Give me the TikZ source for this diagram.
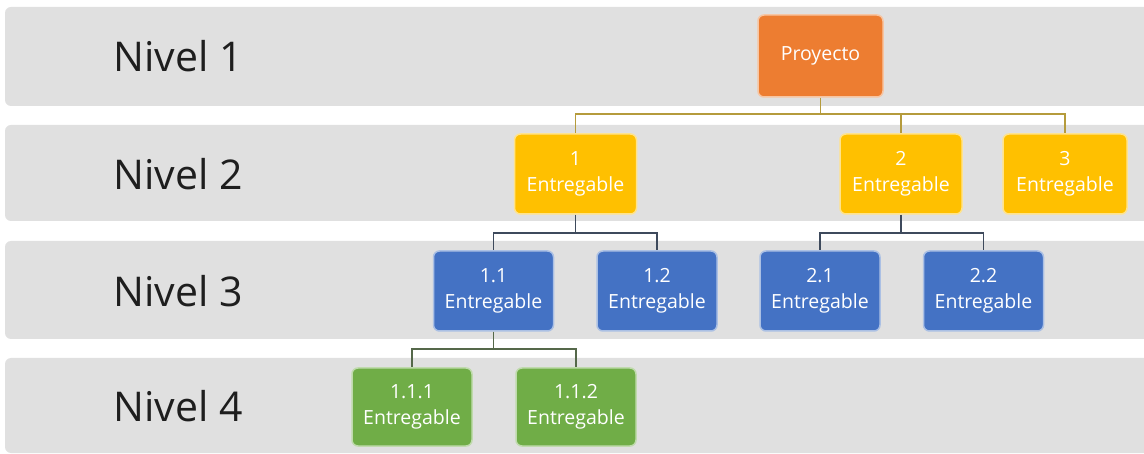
\documentclass[tikz,border=0pt]{standalone}
\usepackage{fontspec}
\setmainfont{Open Sans}
\definecolor{band}{HTML}{E0E0E0}
\definecolor{orng}{HTML}{ED7D31}
\definecolor{yell}{HTML}{FFC000}
\definecolor{blu}{HTML}{4472C4}
\definecolor{grn}{HTML}{70AD47}
\definecolor{cA}{HTML}{B59B3C}
\definecolor{cB}{HTML}{3E4A5C}
\definecolor{cC}{HTML}{55684A}
\definecolor{nivtxt}{HTML}{1E1E1E}
\tikzset{
  bandbox/.style={fill=band, draw=none, rounded corners=6pt},
  nivel/.style={anchor=west, text=nivtxt, font=\fontsize{41}{48}\selectfont, inner sep=0pt},
  wbs/.style={rounded corners=6pt, minimum width=122pt, minimum height=80pt, inner sep=0pt,
    align=center, text=white, line width=1.5pt, font=\fontsize{19.5}{26}\selectfont},
  lvA/.style={wbs, fill=orng, draw=orng!45!white},
  lvB/.style={wbs, fill=yell, draw=yell!45!white},
  lvC/.style={wbs, fill=blu, draw=blu!45!white},
  lvD/.style={wbs, fill=grn, draw=grn!45!white},
  conA/.style={draw=cA, line width=1.4pt},
  conB/.style={draw=cB, line width=1.4pt},
  conC/.style={draw=cC, line width=1.4pt}
}
\begin{document}
\begin{tikzpicture}[x=1pt,y=-1pt]
\useasboundingbox (0,0) rectangle (1144,454);
\fill[white] (0,0) rectangle (1144,454);
% bands
\path[bandbox] (5,7) rectangle (1156,106);
\path[bandbox] (5,125) rectangle (1156,221);
\path[bandbox] (5,241) rectangle (1156,339);
\path[bandbox] (5,358) rectangle (1156,453);
% level labels
\node[nivel] (n1) at (113,56) {Nivel 1};
\node[nivel] (n2) at (113,174) {Nivel 2};
\node[nivel] (n3) at (113,291) {Nivel 3};
\node[nivel] (n4) at (113,406) {Nivel 4};
% bus coordinates
\coordinate (b1) at (0,114);
\coordinate (b2) at (0,233);
\coordinate (b3) at (0,349);
% nodes
\node[lvA, minimum width=125pt, minimum height=82pt] (P) at (820.5,56) {Proyecto};
\node[lvB] (E1) at (575.5,174) {1\\Entregable};
\node[lvB] (E2) at (901,174) {2\\Entregable};
\node[lvB, minimum width=124pt] (E3) at (1065,174) {3\\Entregable};
\node[lvC, minimum width=120pt] (E11) at (493.5,291) {1.1\\Entregable};
\node[lvC, minimum width=120pt] (E12) at (657,291) {1.2\\Entregable};
\node[lvC, minimum width=120pt] (E21) at (820,291) {2.1\\Entregable};
\node[lvC, minimum width=120pt] (E22) at (983.5,291) {2.2\\Entregable};
\node[lvD, minimum width=120pt, minimum height=78pt] (E111) at (412,407) {1.1.1\\Entregable};
\node[lvD, minimum width=120pt, minimum height=78pt] (E112) at (576,407) {1.1.2\\Entregable};
% connectors
\draw[conA] (P.south) -- (P.south |- b1) -| (E1.north);
\draw[conA] (P.south |- b1) -| (E2.north);
\draw[conA] (P.south |- b1) -| (E3.north);
\draw[conB] (E1.south) -- (E1.south |- b2) -| (E11.north);
\draw[conB] (E1.south |- b2) -| (E12.north);
\draw[conB] (E2.south) -- (E2.south |- b2) -| (E21.north);
\draw[conB] (E2.south |- b2) -| (E22.north);
\draw[conC] (E11.south) -- (E11.south |- b3) -| (E111.north);
\draw[conC] (E11.south |- b3) -| (E112.north);
\end{tikzpicture}
\end{document}
